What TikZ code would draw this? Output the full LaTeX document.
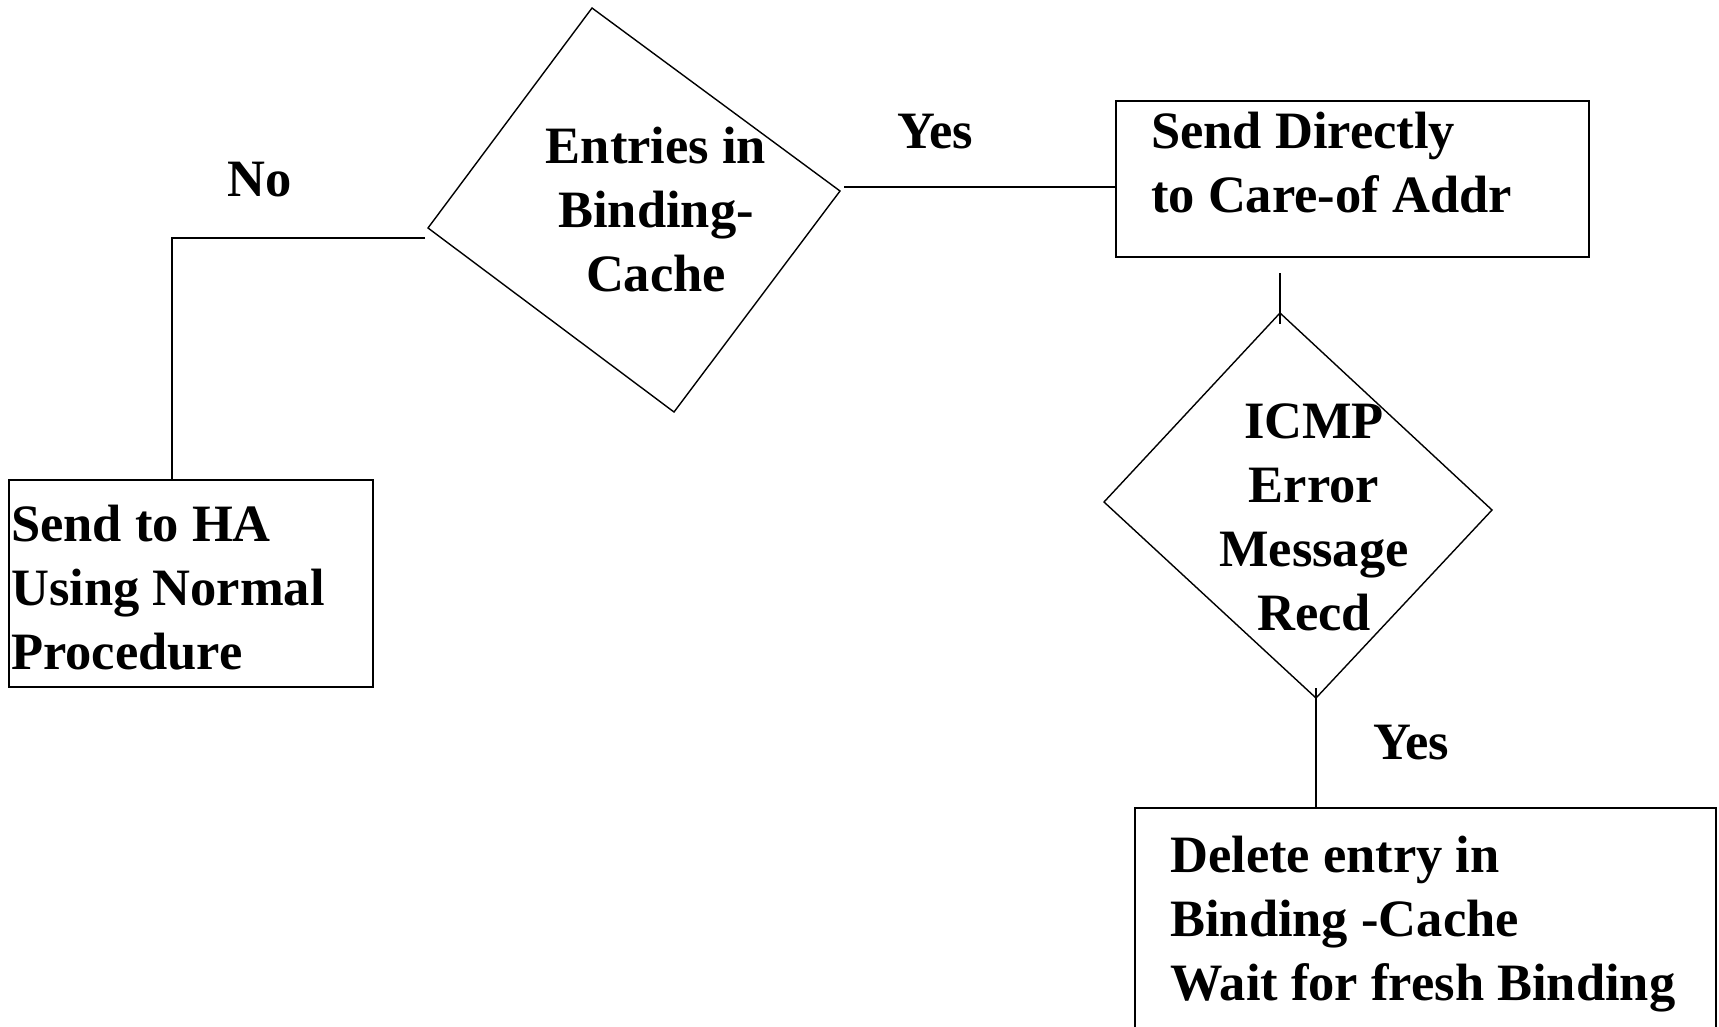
\documentclass[tikz,border=0pt]{standalone}
\usepackage{fontspec}
\setmainfont{Liberation Serif}
\begin{document}
\begin{tikzpicture}[x=1pt,y=-1pt,
  wire/.style={line width=1.4pt},
  boxnode/.style={draw,line width=1.4pt,rectangle,inner sep=0pt},
  decision/.style={draw,line width=1.4pt,line join=miter},
  txt/.style={font=\bfseries\fontsize{52.5}{64}\selectfont,inner sep=0pt},
  ]
\useasboundingbox (0,0) rectangle (1719,1027);
\clip (0,0) rectangle (1719,1027);

% process boxes
\node[boxnode,minimum width=364,minimum height=207] (ha)  at (191,583.5) {};
\node[boxnode,minimum width=473,minimum height=156] (coa) at (1352.5,179) {};
\node[boxnode,minimum width=581,minimum height=252] (del) at (1425.5,934) {};

% decision diamonds
\coordinate (d1t) at (592,8);   \coordinate (d1r) at (840,191);
\coordinate (d1b) at (674,412); \coordinate (d1l) at (428,228);
\draw[decision] (d1t) -- (d1r) -- (d1b) -- (d1l) -- cycle;
\coordinate (d2t) at (1280,313);  \coordinate (d2r) at (1492,510);
\coordinate (d2b) at (1316,698);  \coordinate (d2l) at (1104,502);
\draw[decision] (d2t) -- (d2r) -- (d2b) -- (d2l) -- cycle;

% connectors
\coordinate (noA)  at (425,238);
\coordinate (noB)  at (172,480);
\draw[wire] (noA) -| (noB);
\coordinate (yesA) at (844,187);
\draw[wire] (yesA) -- (yesA -| coa.west);
\coordinate (midA) at (1280,273);
\coordinate (midB) at (1280,324);
\draw[wire] (midA) -- (midB);
\coordinate (icA)  at (1316,688);
\draw[wire] (icA) -- (icA |- del.north);

% branch labels
\node[txt,anchor=base] (lno)   at (260,197) {No};
\node[txt,anchor=base] (lyes1) at (935,149) {Yes};
\node[txt,anchor=base] (lyes2) at (1411,759) {Yes};

% texts (base anchor sits on the last line)
\node[txt,anchor=base,align=center] (t1) at (656,291) {Entries in\\Binding-\\Cache};
\node[txt,anchor=base,align=center] (t2) at (1314,630) {ICMP\\Error\\Message\\Recd};
\node[txt,anchor=base west,align=left] (t3) at (11,669) {Send to HA\\Using Normal\\Procedure};
\node[txt,anchor=base west,align=left] (t4) at (1151,213) {Send Directly\\to Care-of Addr};
\node[txt,anchor=base west,align=left] (t5) at (1170,1000) {Delete entry in\\Binding -Cache\\Wait for fresh Binding};
\end{tikzpicture}
\end{document}
